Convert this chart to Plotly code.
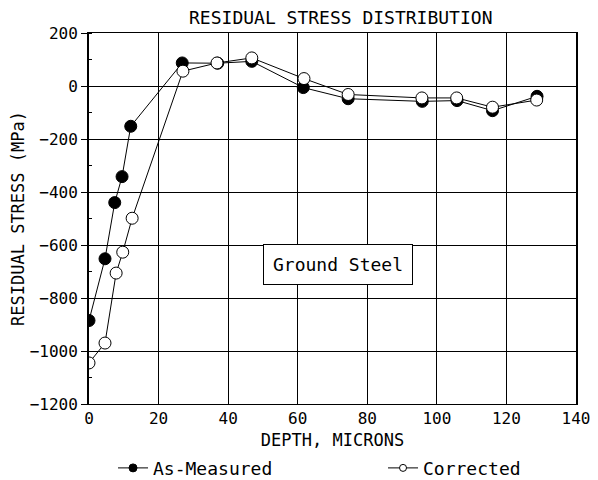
import plotly.graph_objects as go

# depth in microns and residual stress in MPa
depth_measured = [0, 4.6, 7.4, 9.5, 12, 26.8, 37, 46.8, 61.6, 74.5, 95.8, 105.8, 116, 128.8]
stress_measured = [-885, -652, -440, -342, -152, 87, 86, 93, -6, -48, -58, -55, -93, -39]

depth_corrected = [0, 4.6, 7.8, 9.7, 12.4, 27, 36.8, 46.8, 61.8, 74.5, 95.7, 105.7, 116, 128.7]
stress_corrected = [-1045, -970, -706, -627, -499, 56, 87, 106, 28, -32, -45, -45, -80, -53]

x_ticks = [0, 20, 40, 60, 80, 100, 120, 140]
y_ticks = [200, 0, -200, -400, -600, -800, -1000, -1200]

font = 'DejaVu Sans Mono'

fig = go.Figure()

# data traces (legend drawn by the small-marker traces below)
fig.add_trace(go.Scatter(x=depth_measured, y=stress_measured, mode='lines+markers',
                         line=dict(color='black', width=1),
                         marker=dict(symbol='circle', size=12, color='black',
                                     line=dict(color='black', width=1)),
                         showlegend=False))
fig.add_trace(go.Scatter(x=depth_corrected, y=stress_corrected, mode='lines+markers',
                         line=dict(color='black', width=1),
                         marker=dict(symbol='circle', size=12, color='white',
                                     line=dict(color='black', width=1)),
                         showlegend=False))

# legend-only entries with smaller markers
fig.add_trace(go.Scatter(x=[None], y=[None], mode='lines+markers', name='As-Measured',
                         line=dict(color='black', width=1), legendwidth=225,
                         marker=dict(size=8, color='black', line=dict(color='black', width=1))))
fig.add_trace(go.Scatter(x=[None], y=[None], mode='lines+markers', name='Corrected',
                         line=dict(color='black', width=1), legendwidth=110,
                         marker=dict(size=7, color='white', line=dict(color='black', width=1))))

fig.add_annotation(x=71.6, y=-673, text='Ground Steel', showarrow=False,
                   font=dict(family=font, size=18, color='black'),
                   bgcolor='white', bordercolor='black', borderwidth=1, borderpad=9)

# the page puts the figure 8px in from the top-left, so the size is trimmed by that
fig.update_layout(
    width=590, height=472,
    margin=dict(l=81, r=22, t=25, b=76, autoexpand=False),
    paper_bgcolor='white', plot_bgcolor='white',
    font=dict(family=font, size=16, color='black'),
    title=dict(text='RESIDUAL STRESS DISTRIBUTION', xref='container', x=0.564,
               xanchor='center', yref='container', y=0.979, yanchor='middle',
               font=dict(family=font, size=18)),
    legend=dict(orientation='h', xref='container', x=0.178, xanchor='left',
                yref='container', y=0.025, yanchor='middle',
                font=dict(family=font, size=18),
                bgcolor='rgba(0,0,0,0)'),
)

fig.update_xaxes(range=[0, 140], tickvals=x_ticks, showgrid=True, gridcolor='black',
                 gridwidth=1, zeroline=False, showline=True, linecolor='black',
                 linewidth=1, mirror=True, ticks='', ticklen=0,
                 title=dict(text='DEPTH, MICRONS', standoff=12, font=dict(family=font, size=17)),
                 tickfont=dict(family=font, size=16))
fig.update_yaxes(range=[-1200, 200], tickvals=y_ticks, showgrid=True, gridcolor='black',
                 gridwidth=1, zeroline=True, zerolinecolor='black', zerolinewidth=1,
                 showline=True, linecolor='black', linewidth=2, mirror=True,
                 ticks='outside', ticklen=6, tickcolor='black',
                 minor=dict(dtick=100, ticks='inside', ticklen=3, tickcolor='black', showgrid=False),
                 title=dict(text='RESIDUAL STRESS (MPa)', standoff=4, font=dict(family=font, size=17)),
                 tickfont=dict(family=font, size=16))

fig.write_html("out.html")
